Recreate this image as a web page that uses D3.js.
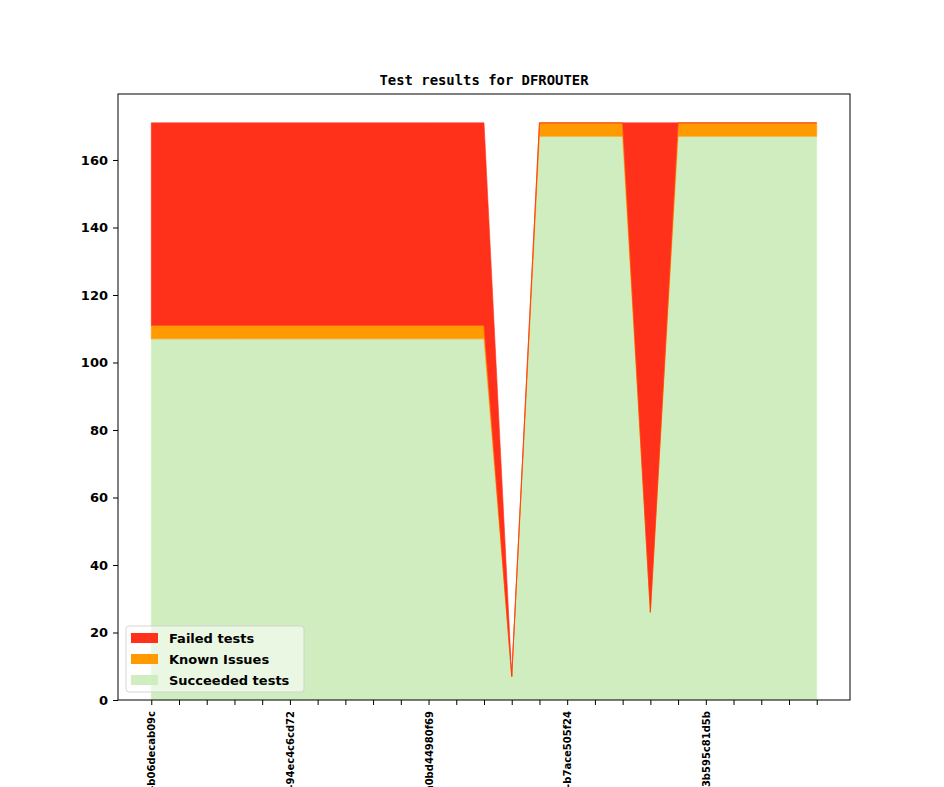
<!DOCTYPE html>
<html>
<head>
<meta charset="utf-8">
<script src="https://cdn.jsdelivr.net/npm/d3@7"></script>
<style>
  body { margin: 0; background: #fff; }
  svg { display: block; }
  .tick text { font-family: "DejaVu Sans", sans-serif; font-weight: bold; fill: #000; }
</style>
</head>
<body>
<svg id="chart" width="944" height="787"></svg>
<script>
// test run values, one entry per build (25 builds)
const succeeded = [107, 107, 107, 107, 107, 107, 107, 107, 107, 107, 107, 107, 107, 7, 167, 167, 167, 167, 26, 167, 167, 167, 167, 167, 167];
const known     = [4, 4, 4, 4, 4, 4, 4, 4, 4, 4, 4, 4, 4, 0, 4, 4, 4, 4, 0, 4, 4, 4, 4, 4, 4];
const failed    = [60, 60, 60, 60, 60, 60, 60, 60, 60, 60, 60, 60, 60, 0, 0, 0, 0, 0, 145, 0, 0, 0, 0, 0, 0];

// only every 5th build gets a label
const labelIndex = [0, 5, 10, 15, 20];
const tickLabels = [
  "2017-03-01-b06decab09c",
  "2017-03-06-94ec4c6cd72",
  "2017-03-11-a0bd44980f69",
  "2017-03-16-b7ace505f24",
  "2017-03-21-a3b595c81d5b"
];
const yTicks = [0, 20, 40, 60, 80, 100, 120, 140, 160];

const seriesNames = ["Succeeded tests", "Known Issues", "Failed tests"];
const seriesColors = ["#d0edbf", "#ff9a00", "#ff311b"];

// chart dimensions (matplotlib axes box)
const margin = { top: 94, right: 94, bottom: 87, left: 118 };
const width = 944 - margin.left - margin.right;
const height = 787 - margin.top - margin.bottom;

const rows = succeeded.map(function(d, i) {
  return { i: i, "Succeeded tests": d, "Known Issues": known[i], "Failed tests": failed[i] };
});

const n = rows.length;
const x = d3.scaleLinear().domain([-0.05 * (n - 1), (n - 1) * 1.05]).range([0, width]);
const yMax = d3.max(rows, d => d["Succeeded tests"] + d["Known Issues"] + d["Failed tests"]);
const y = d3.scaleLinear().domain([0, yMax * 1.05]).range([height, 0]);
const z = d3.scaleOrdinal().domain(seriesNames).range(seriesColors);

const stack = d3.stack().keys(seriesNames);
const layers = stack(rows);

const area = d3.area()
  .x(d => x(d.data.i))
  .y0(d => y(d[0]))
  .y1(d => y(d[1]));

const svg = d3.select("#chart");
const g = svg.append("g")
  .attr("transform", "translate(" + margin.left + "," + margin.top + ")");

// stacked areas
g.selectAll(".layer")
  .data(layers)
  .enter()
  .append("path")
  .attr("class", "layer")
  .attr("d", area)
  .attr("fill", d => z(d.key))
  .attr("stroke", d => z(d.key))
  .attr("stroke-width", 0.6);

// axes
const xAxis = d3.axisBottom(x)
  .tickValues(d3.range(n))
  .tickSize(5)
  .tickFormat(i => {
    const k = labelIndex.indexOf(i);
    return k >= 0 ? tickLabels[k] : "";
  });
const bottomAxis = g.append("g")
  .attr("transform", "translate(0," + height + ")")
  .call(xAxis);
bottomAxis.select(".domain").remove();
bottomAxis.selectAll(".tick line").attr("stroke", "#000");
bottomAxis.selectAll(".tick text")
  .style("font-size", "10px")
  .attr("text-anchor", "end")
  .attr("transform", "rotate(-90)")
  .attr("x", -11)
  .attr("y", 0)
  .attr("dy", "0.35em");

const leftAxis = g.append("g")
  .call(d3.axisLeft(y).tickValues(yTicks).tickSize(5).tickPadding(5));
leftAxis.select(".domain").remove();
leftAxis.selectAll(".tick line").attr("stroke", "#000");
leftAxis.selectAll(".tick text").style("font-size", "13px");

// frame
g.append("rect")
  .attr("width", width)
  .attr("height", height)
  .attr("fill", "none")
  .attr("stroke", "#000")
  .attr("stroke-width", 1);

// title
svg.append("text")
  .attr("x", margin.left + width / 2)
  .attr("y", margin.top - 9)
  .attr("text-anchor", "middle")
  .style("font-family", "'DejaVu Sans Mono', monospace")
  .style("font-weight", "bold")
  .style("font-size", "13.9px")
  .text("Test results for DFROUTER");

// legend, top entry is the top layer
const legendItems = seriesNames.slice().reverse();
const legend = g.append("g")
  .attr("transform", "translate(8," + (height - 74) + ")");
legend.append("rect")
  .attr("width", 178)
  .attr("height", 66)
  .attr("rx", 3)
  .attr("fill", "#fff")
  .attr("fill-opacity", 0.55)
  .attr("stroke", "#ccc")
  .attr("stroke-opacity", 0.8);
const item = legend.selectAll(".legend-item")
  .data(legendItems)
  .enter()
  .append("g")
  .attr("class", "legend-item")
  .attr("transform", (d, i) => "translate(5," + (12 + i * 21) + ")");
item.append("rect")
  .attr("x", 0)
  .attr("y", -5)
  .attr("width", 27)
  .attr("height", 10)
  .attr("fill", d => z(d));
item.append("text")
  .attr("x", 38)
  .attr("dy", "0.35em")
  .style("font-family", "'DejaVu Sans', sans-serif")
  .style("font-weight", "bold")
  .style("font-size", "13px")
  .text(d => d);
</script>
</body>
</html>
